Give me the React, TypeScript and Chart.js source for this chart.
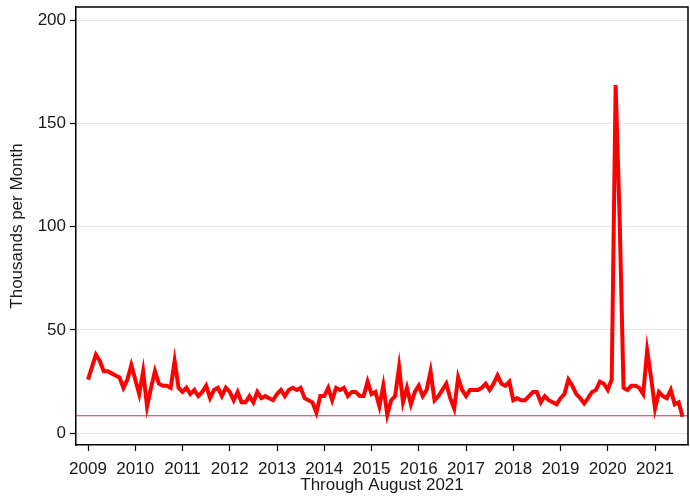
import { useEffect, useRef } from "react";
import { Chart, registerables } from "chart.js";

Chart.register(...registerables);

// ---- Data (thousands per month, Jan 2009 – Aug 2021) ----
const startYear = 2009;
const yearTicks = [2009, 2010, 2011, 2012, 2013, 2014, 2015, 2016, 2017, 2018, 2019, 2020, 2021];
const valueTicks = [0, 50, 100, 150, 200];

const v2009 = [26, 32, 38, 35, 30, 30, 29, 28, 27, 22, 26, 33];
const v2010 = [26, 19, 30, 13, 22, 30, 24, 23, 23, 22, 35, 22];
const v2011 = [20, 22, 19, 21, 18, 20, 23, 17, 21, 22, 18, 22];
const v2012 = [20, 16, 20, 15, 15, 18, 15, 20, 17, 18, 17, 16];
const v2013 = [19, 21, 18, 21, 22, 21, 22, 17, 16, 15, 10, 18];
const v2014 = [18, 22, 16, 22, 21, 22, 18, 20, 20, 18, 18, 25];
const v2015 = [19, 20, 13, 23, 9, 16, 18, 32, 15, 22, 14, 20];
const v2016 = [23, 18, 21, 30, 16, 18, 21, 24, 17, 12, 27, 21];
const v2017 = [18, 21, 21, 21, 22, 24, 21, 24, 28, 24, 23, 25];
const v2018 = [16, 17, 16, 16, 18, 20, 20, 15, 18, 16, 15, 14];
const v2019 = [17, 19, 26, 23, 19, 17, 14.5, 17, 20, 21, 25, 24];
const v2020 = [21, 26, 168.5, 105, 22, 21, 23, 23, 22, 19, 40, 27];
const v2021 = [12, 20, 18, 17, 21, 14, 15, 8];

const monthly = [
  ...v2009, ...v2010, ...v2011, ...v2012, ...v2013, ...v2014, ...v2015,
  ...v2016, ...v2017, ...v2018, ...v2019, ...v2020, ...v2021,
];

const referenceLevel = 8.5;

const X_MIN = 2008.746;
const X_MAX = 2021.698;
const Y_MIN = -5.66;
const Y_MAX = 206.3;

const FONT = { family: "'Liberation Sans', Arial, sans-serif", size: 17 };
const TEXT = "#1a1a1a";

const framePlugin = {
  id: "frame",
  afterDraw(chart: any) {
    const { ctx, chartArea } = chart;
    ctx.save();
    ctx.strokeStyle = "#000";
    ctx.lineWidth = 1.5;
    ctx.beginPath();
    ctx.moveTo(chartArea.left, chartArea.top);
    ctx.lineTo(chartArea.right, chartArea.top);
    ctx.lineTo(chartArea.right, chartArea.bottom);
    ctx.stroke();
    ctx.restore();
  },
};

export default function App() {
  const ref = useRef<HTMLCanvasElement | null>(null);

  useEffect(() => {
    if (!ref.current) return;
    const points = monthly.map((v, i) => ({ x: startYear + i / 12, y: v }));
    const refLine = [
      { x: X_MIN, y: referenceLevel },
      { x: X_MAX, y: referenceLevel },
    ];
    const chart = new Chart(ref.current, {
      type: "line",
      data: {
        datasets: [
          {
            data: points,
            borderColor: "#ff0000",
            borderWidth: 4,
            pointRadius: 0,
            tension: 0,
            order: 1,
          },
          {
            data: refLine,
            borderColor: "#e0245e",
            borderWidth: 1.2,
            pointRadius: 0,
            order: 2,
          },
        ],
      },
      options: {
        animation: false,
        responsive: false,
        devicePixelRatio: 1,
        parsing: false as any,
        layout: { padding: { top: 7, right: 2, left: 0, bottom: 0 } },
        plugins: {
          legend: { display: false },
          tooltip: { enabled: false },
        },
        scales: {
          x: {
            type: "linear",
            min: X_MIN,
            max: X_MAX,
            afterBuildTicks: (scale: any) => {
              scale.ticks = yearTicks.map((v) => ({ value: v }));
            },
            afterFit: (scale: any) => {
              scale.height = 51;
              scale.paddingLeft = 0;
              scale.paddingRight = 0;
            },
            ticks: {
              callback: (v: any) => String(v),
              autoSkip: false,
              maxRotation: 0,
              font: FONT,
              color: TEXT,
              padding: 8,
            },
            grid: {
              drawOnChartArea: false,
              drawTicks: true,
              tickLength: 6,
              tickColor: "#000",
              tickWidth: 1.2,
            },
            border: { color: "#000", width: 1.5 },
            title: {
              display: true,
              text: "Through August 2021",
              font: FONT,
              color: TEXT,
              padding: { top: 0, bottom: 0 },
            },
          },
          y: {
            type: "linear",
            min: Y_MIN,
            max: Y_MAX,
            afterBuildTicks: (scale: any) => {
              scale.ticks = valueTicks.map((v) => ({ value: v }));
            },
            afterFit: (scale: any) => {
              scale.width = 76;
              scale.paddingTop = 0;
              scale.paddingBottom = 0;
            },
            ticks: {
              font: FONT,
              color: TEXT,
              padding: 4,
            },
            grid: {
              color: "#e6e6e6",
              lineWidth: 1,
              drawTicks: true,
              tickLength: 6,
              tickColor: "#000",
              tickWidth: 1.2,
            },
            border: { color: "#000", width: 1.5 },
            title: {
              display: true,
              text: "Thousands per Month",
              font: FONT,
              color: TEXT,
              padding: { top: 7, bottom: 0 },
            },
          },
        },
      },
      plugins: [framePlugin],
    });
    return () => chart.destroy();
  }, []);

  return (
    <div style={{ position: "absolute", left: 0, top: 0, width: 690, height: 496, background: "#fff" }}>
      <canvas ref={ref} width={690} height={496} style={{ display: "block" }} />
    </div>
  );
}
